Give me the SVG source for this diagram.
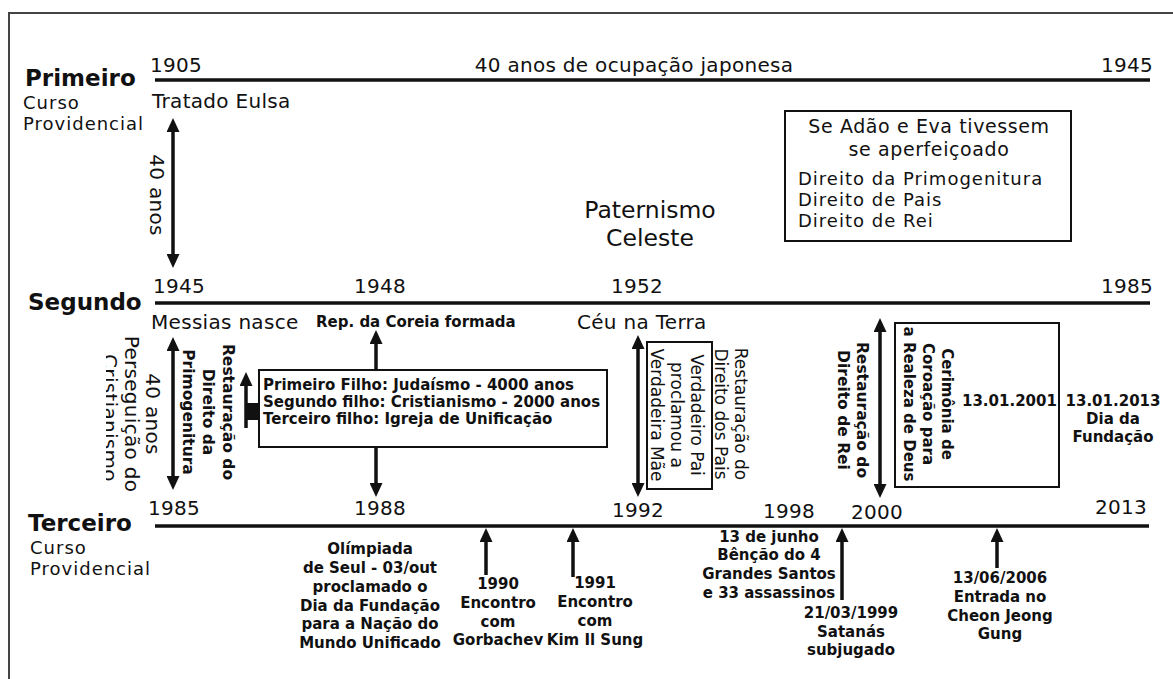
<svg xmlns="http://www.w3.org/2000/svg" width="1173" height="679" viewBox="0 0 1173 679">
<style>
text{font-family:"DejaVu Sans",Verdana,sans-serif;fill:#111}
.h{font-size:23px;font-weight:bold}
.t{font-size:20px;letter-spacing:0.3px}
.s{font-size:18px;letter-spacing:1px}
.q{font-size:19px;letter-spacing:0.6px}
.y{font-size:20px;letter-spacing:0.3px}
.p{font-size:23.5px}
.b{font-size:15px;font-weight:bold}
.rb{font-size:15.5px;font-weight:bold}
.r{font-size:17px}
.m{text-anchor:middle}
.e{text-anchor:end}
.tl{stroke:#111;stroke-width:3.5;fill:none}
.ar{stroke:#111;stroke-width:3.5;fill:none;marker-end:url(#ah)}
.da{stroke:#111;stroke-width:3.5;fill:none;marker-start:url(#ah);marker-end:url(#ah)}
.bx{fill:#fff;stroke:#111;stroke-width:2}
</style>
<defs>
<marker id="ah" markerUnits="userSpaceOnUse" markerWidth="14" markerHeight="13" refX="4" refY="6.5" orient="auto-start-reverse" viewBox="0 0 14 13">
<path d="M0,0 L14,6.5 L0,13 z" fill="#111"/>
</marker>
<clipPath id="clipL"><rect x="106" y="300" width="200" height="220"/></clipPath>
</defs>
<rect width="1173" height="679" fill="#fff"/>
<rect x="9" y="13" width="1200" height="720" fill="none" stroke="#444" stroke-width="2"/>

<g id="connectors">
<line class="tl" x1="155" y1="80" x2="1150" y2="80"/>
<line class="tl" x1="155" y1="303" x2="1150" y2="303"/>
<line class="tl" x1="155" y1="526" x2="1149" y2="526"/>
<line class="da" x1="173" y1="128" x2="173" y2="258"/>
<line class="da" x1="173" y1="347" x2="173" y2="480"/>
<line class="ar" x1="376" y1="370" x2="376" y2="340"/>
<line class="ar" x1="376" y1="447" x2="376" y2="487"/>
<line class="ar" x1="246" y1="428" x2="246" y2="382"/>
<rect x="246" y="403" width="14" height="17" fill="#111"/>
<line class="da" x1="638" y1="345" x2="638" y2="487"/>
<line class="da" x1="880" y1="328" x2="880" y2="488"/>
<line class="ar" x1="486" y1="575" x2="486" y2="538"/>
<line class="ar" x1="573" y1="577" x2="573" y2="538"/>
<line class="ar" x1="842" y1="600" x2="842" y2="538"/>
<line class="ar" x1="997" y1="568" x2="997" y2="538"/>
</g>

<g id="primeiro">
<text class="h" x="25" y="86">Primeiro</text>
<text class="s" x="23" y="109">Curso</text>
<text class="s" x="23" y="130">Providencial</text>
<text class="y" x="150" y="72">1905</text>
<text class="t m" x="634" y="72">40 anos de ocupação japonesa</text>
<text class="y e" x="1153" y="72">1945</text>
<text class="t" x="152" y="108">Tratado Eulsa</text>
<text class="t m" transform="translate(150,195) rotate(90)">40 anos</text>
</g>

<g id="paternismo">
<text class="p m" x="650" y="218">Paternismo</text>
<text class="p m" x="650" y="246">Celeste</text>
</g>

<g id="adao-box">
<rect class="bx" x="785" y="111" width="286" height="130"/>
<text class="q m" x="929" y="133">Se Adão e Eva tivessem</text>
<text class="q m" x="929" y="156">se aperfeiçoado</text>
<text class="s" x="798" y="185">Direito da Primogenitura</text>
<text class="s" x="798" y="206">Direito de Pais</text>
<text class="s" x="798" y="227">Direito de Rei</text>
</g>

<g id="segundo">
<text class="h" x="28" y="310">Segundo</text>
<text class="y" x="153" y="293">1945</text>
<text class="y m" x="380" y="293">1948</text>
<text class="y m" x="637" y="293">1952</text>
<text class="y e" x="1153" y="293">1985</text>
<text class="t" x="151" y="329">Messias nasce</text>
<text class="b" x="316" y="327">Rep. da Coreia formada</text>
<text class="t" x="577" y="329">Céu na Terra</text>
</g>

<g id="perseguicao">
<text class="t m" transform="translate(146,414) rotate(90)"><tspan x="0" y="0">40 anos</tspan><tspan x="0" dy="21">Perseguição do</tspan></text>
<g clip-path="url(#clipL)"><text class="t m" transform="translate(103,418) rotate(90)">Cristianismo</text></g>
</g>

<g id="primogenitura">
<text class="rb m" transform="translate(223,412) rotate(90)"><tspan x="0" y="0">Restauração do</tspan><tspan x="0" dy="20">Direito da</tspan><tspan x="0" dy="20">Primogenitura</tspan></text>
</g>

<g id="filhos-box">
<rect class="bx" x="259" y="370" width="348" height="77"/>
<text class="b" x="263" y="390">Primeiro Filho: Judaísmo - 4000 anos</text>
<text class="b" x="263" y="407">Segundo filho: Cristianismo - 2000 anos</text>
<text class="b" x="263" y="424">Terceiro filho: Igreja de Unificação</text>
</g>

<g id="verdadeiro-box">
<rect class="bx" x="647" y="342" width="65" height="147"/>
<text class="r m" transform="translate(691,415) rotate(90)"><tspan x="0" y="0">Verdadeiro Pai</tspan><tspan x="0" dy="20">proclamou a</tspan><tspan x="0" dy="20">Verdadeira Mãe</tspan></text>
</g>

<g id="pais">
<text class="r m" transform="translate(735,414) rotate(90)"><tspan x="0" y="0">Restauração do</tspan><tspan x="0" dy="20">Direito dos Pais</tspan></text>
</g>

<g id="rei">
<text class="rb m" transform="translate(857,410) rotate(90)"><tspan x="0" y="0">Restauração do</tspan><tspan x="0" dy="19">Direito de Rei</tspan></text>
</g>

<g id="coroacao-box">
<rect class="bx" x="895" y="323" width="164" height="164"/>
<text class="b m" transform="translate(942,404) rotate(90)"><tspan x="0" y="0">Cerimônia de</tspan><tspan x="0" dy="19">Coroação para</tspan><tspan x="0" dy="19">a Realeza de Deus</tspan></text>
<text class="b" x="962" y="406">13.01.2001</text>
</g>

<g id="fundacao">
<text class="b m" x="1113" y="406">13.01.2013</text>
<text class="b m" x="1113" y="424">Dia da</text>
<text class="b m" x="1113" y="442">Fundação</text>
</g>

<g id="terceiro">
<text class="h" x="28" y="531">Terceiro</text>
<text class="s" x="30" y="554">Curso</text>
<text class="s" x="30" y="575">Providencial</text>
<text class="y" x="148" y="515">1985</text>
<text class="y m" x="380" y="515">1988</text>
<text class="y m" x="638" y="517">1992</text>
<text class="y m" x="789" y="518">1998</text>
<text class="y m" x="877" y="519">2000</text>
<text class="y e" x="1147" y="514">2013</text>
</g>

<g id="olimpiada">
<text class="b m" x="370" y="554">Olímpiada</text>
<text class="b m" x="370" y="573">de Seul - 03/out</text>
<text class="b m" x="370" y="592">proclamado o</text>
<text class="b m" x="370" y="611">Dia da Fundação</text>
<text class="b m" x="370" y="629">para a Nação do</text>
<text class="b m" x="370" y="648">Mundo Unificado</text>
</g>

<g id="gorbachev">
<text class="b m" x="498" y="589">1990</text>
<text class="b m" x="498" y="608">Encontro</text>
<text class="b m" x="498" y="627">com</text>
<text class="b m" x="498" y="645">Gorbachev</text>
</g>

<g id="kim">
<text class="b m" x="595" y="588">1991</text>
<text class="b m" x="595" y="607">Encontro</text>
<text class="b m" x="595" y="626">com</text>
<text class="b m" x="595" y="645">Kim Il Sung</text>
</g>

<g id="bencao">
<text class="b m" x="769" y="542">13 de junho</text>
<text class="b m" x="769" y="560">Bênção do 4</text>
<text class="b m" x="769" y="579">Grandes Santos</text>
<text class="b m" x="769" y="598">e 33 assassinos</text>
</g>

<g id="satanas">
<text class="b m" x="851" y="618">21/03/1999</text>
<text class="b m" x="851" y="637">Satanás</text>
<text class="b m" x="851" y="655">subjugado</text>
</g>

<g id="cheon">
<text class="b m" x="1000" y="583">13/06/2006</text>
<text class="b m" x="1000" y="602">Entrada no</text>
<text class="b m" x="1000" y="621">Cheon Jeong</text>
<text class="b m" x="1000" y="639">Gung</text>
</g>
</svg>
